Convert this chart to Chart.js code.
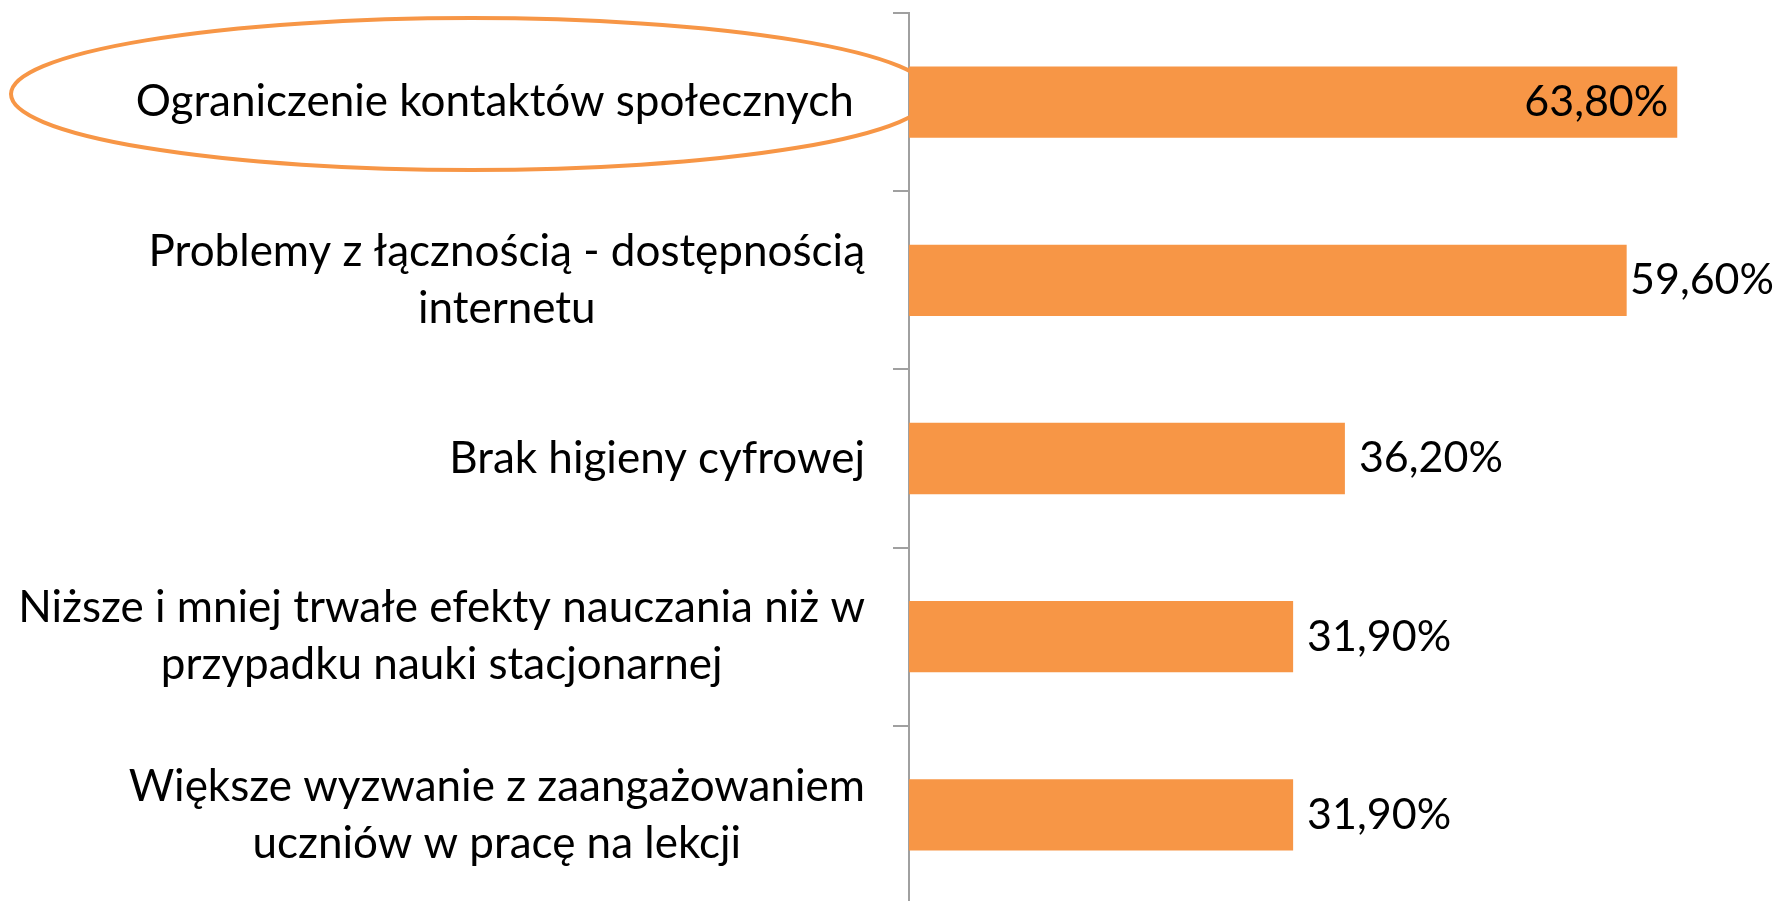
<!DOCTYPE html>
<html>
<head>
<meta charset="utf-8">
<script src="https://cdn.jsdelivr.net/npm/chart.js@4/dist/chart.umd.min.js"></script>
<style>
  html, body { margin: 0; padding: 0; background: #fff; overflow: hidden; }
  #wrap { width: 1779px; height: 901px; overflow: hidden; }
</style>
</head>
<body>
<div id="wrap"><canvas id="chart" width="1779" height="904"></canvas></div>
<script>
// ---------- data ----------
const categories = [
    ["Ograniczenie kontaktów społecznych "],
    ["Problemy z łącznością - dostępnością", "internetu"],
    ["Brak higieny cyfrowej"],
    ["Niższe i mniej trwałe efekty nauczania niż w", "przypadku nauki stacjonarnej"],
    ["Większe wyzwanie z zaangażowaniem", "uczniów w pracę na lekcji"]
];
const values = [63.8, 59.6, 36.2, 31.9, 31.9];

const ORANGE = "#f79646";
const AXIS_GREY = "#a0a0a0";
const CAT_FONT = "44px Lato";
const VAL_FONT = "43px Lato";

function pct(v) {
    return v.toFixed(2).replace(".", ",") + "%";
}

// category labels (lines centred inside a right-aligned block) + ellipse
const labelPlugin = {
    id: "labels",
    beforeDatasetsDraw(chart) {
        const ctx = chart.ctx;
        const y = chart.scales.y;
        // highlight ring round the first category
        const cy = y.getPixelForTick(0) - 8;
        const left = 11;
        const rx = (chart.chartArea.left - left) / 1.951;
        ctx.save();
        ctx.strokeStyle = ORANGE;
        ctx.lineWidth = 4;
        ctx.beginPath();
        ctx.ellipse(left + rx, cy, rx, 76, 0, 0, Math.PI * 2);
        ctx.stroke();
        ctx.restore();
    },
    afterDatasetsDraw(chart) {
        const ctx = chart.ctx;
        const y = chart.scales.y;
        const right = chart.chartArea.left - 44;
        const lineH = 57;
        ctx.save();
        ctx.font = CAT_FONT;
        ctx.fillStyle = "#000";
        ctx.textBaseline = "middle";
        ctx.textAlign = "center";
        categories.forEach((lines, i) => {
            const c = y.getPixelForTick(i);
            const w = Math.max(...lines.map(l => ctx.measureText(l).width));
            const x = right - w / 2;
            const top = c - (lines.length - 1) * lineH / 2;
            lines.forEach((l, j) => ctx.fillText(l, x, top + j * lineH));
        });

        // value labels: outside end, pushed left to fit, inside if no room
        ctx.font = VAL_FONT;
        ctx.textAlign = "left";
        const meta = chart.getDatasetMeta(0);
        meta.data.forEach((bar, i) => {
            const txt = pct(values[i]);
            const w = ctx.measureText(txt).width;
            let x = Math.min(bar.x + 14, chart.width - 5 - w);
            if (x < bar.x) x = bar.x - 9 - w;
            ctx.fillText(txt, x, bar.y);
        });
        ctx.restore();
    }
};

new Chart(document.getElementById("chart"), {
    type: "bar",
    data: {
        labels: categories,
        datasets: [{
            data: values,
            backgroundColor: ORANGE,
            borderWidth: 0,
            barPercentage: 0.4,
            categoryPercentage: 1
        }]
    },
    options: {
        indexAxis: "y",
        responsive: false,
        animation: false,
        devicePixelRatio: 1,
        layout: { padding: { top: 13, left: 0, right: 0, bottom: 0 } },
        plugins: {
            legend: { display: false },
            tooltip: { enabled: false }
        },
        scales: {
            x: {
                display: false,
                min: 0,
                max: 72.25
            },
            y: {
                afterFit: s => { s.width = 909; },
                ticks: { display: false },
                grid: {
                    drawOnChartArea: false,
                    drawTicks: true,
                    tickLength: 16,
                    color: AXIS_GREY,
                    lineWidth: 2
                },
                border: { display: true, color: AXIS_GREY, width: 2 }
            }
        }
    },
    plugins: [labelPlugin]
});
</script>
</body>
</html>
